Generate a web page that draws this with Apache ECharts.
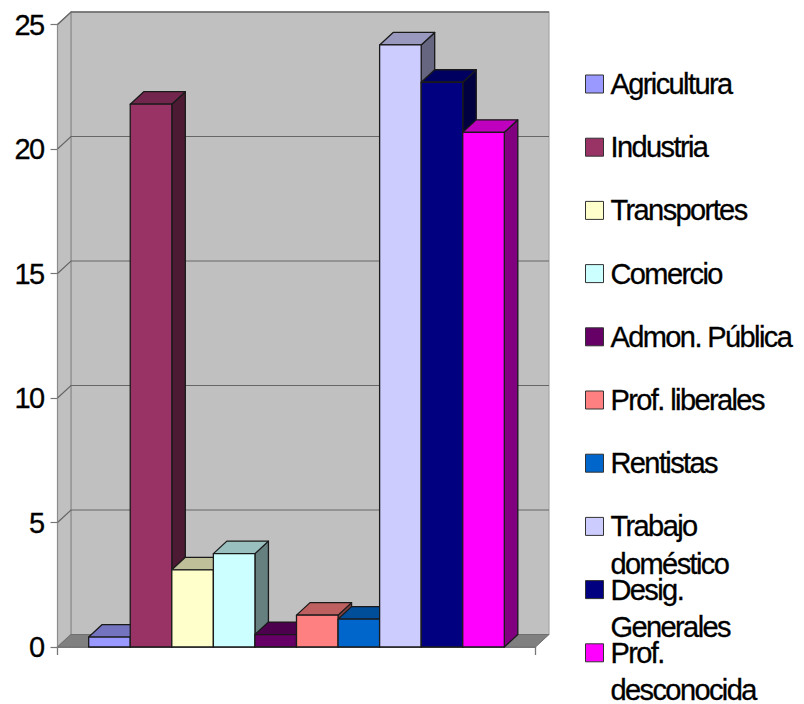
<!DOCTYPE html>
<html><head><meta charset="utf-8">
<style>html,body{margin:0;padding:0;background:#fff}#c{width:804px;height:704px}svg text{letter-spacing:-1.6px;stroke:#000;stroke-width:.3px}</style>
<script src="https://cdn.jsdelivr.net/npm/echarts@6/dist/echarts.min.js"></script>
</head><body><div id="c"></div>
<script>
const categories = ['Agricultura','Industria','Transportes','Comercio','Admon. Pública','Prof. liberales','Rentistas','Trabajo\ndoméstico','Desig.\nGenerales','Prof.\ndesconocida'];
const values = [0.4,21.8,3.1,3.75,0.5,1.28,1.12,24.18,22.68,20.67];
const colors = ['#9999FF','#993366','#FFFFCC','#CCFFFF','#660066','#FF8080','#0066CC','#CCCCFF','#000080','#FF00FF'];
const yTicks = [0,5,10,15,20,25];

const DX = 13.5, DY = -12.5, FONT = 'Liberation Sans', FS = 29;
const chart = echarts.init(document.getElementById('c'), null, {renderer:'svg', width:804, height:704});

function shade(hex, k){
  const n = parseInt(hex.slice(1),16);
  const c = [n>>16&255,n>>8&255,n&255].map(v=>Math.round(v*k));
  return 'rgb('+c.join(',')+')';
}
const wallSeries = {
  type:'custom', silent:true, z:1, data:yTicks.map(v=>[0,v]), encode:{x:0,y:1},
  renderItem(params, api){
    const v = api.value(1), p = api.coord([0,v]), band = api.size([1,0])[0];
    const L = p[0]-band/2, R = p[0]+band/2, y = p[1];
    const children = [];
    if (v === 0) {
      const top = api.coord([0,25])[1];
      children.push({type:'polygon',shape:{points:[[L+DX,y+DY],[R+DX,y+DY],[R+DX,top+DY],[L+DX,top+DY]]},style:{fill:'#C0C0C0',stroke:'#A8A8A8',lineWidth:1.2}});
      children.push({type:'polygon',shape:{points:[[L,y],[L+DX,y+DY],[L+DX,top+DY],[L,top]]},style:{fill:'#C0C0C0',stroke:'#8C8C8C',lineWidth:1.2}});
      children.push({type:'polygon',shape:{points:[[L,y],[R,y],[R+DX,y+DY],[L+DX,y+DY]]},style:{fill:'#808080',stroke:'#707070',lineWidth:1}});
      children.push({type:'line',shape:{x1:L+DX,y1:top+DY,x2:R+DX,y2:top+DY},style:{stroke:'#666',lineWidth:1.2}});
    } else {
      children.push({type:'polyline',shape:{points:[[L,y],[L+DX,y+DY],[R+DX,y+DY]]},style:{fill:'none',stroke:'#666',lineWidth:1.2}});
    }
    return {type:'group',children};
  }
};
const barSeries = categories.map((name,i)=>({
  type:'custom', name, z:2, data:[[0,values[i]]], encode:{x:0,y:1},
  itemStyle:{color:colors[i]},
  renderItem(params, api){
    const p = api.coord([0,api.value(1)]), base = api.coord([0,0])[1];
    const band = api.size([1,0])[0], w = band/11.5;
    const x0 = p[0]+(i-5)*w, x1 = x0+w, t = p[1];
    const stroke = {stroke:'#1a1a1a',lineWidth:1.3,lineJoin:'round'};
    return {type:'group',children:[
      {type:'polygon',shape:{points:[[x1,t],[x1+DX,t+DY],[x1+DX,base+DY],[x1,base]]},style:Object.assign({fill:shade(colors[i],.5)},stroke)},
      {type:'polygon',shape:{points:[[x0,t],[x0+DX,t+DY],[x1+DX,t+DY],[x1,t]]},style:Object.assign({fill:shade(colors[i],.75)},stroke)},
      {type:'polygon',shape:{points:[[x0,t],[x1,t],[x1,base],[x0,base]]},style:Object.assign({fill:colors[i]},stroke)}
    ]};
  }
}));
const LH = 37.5;
const legends = categories.map((name,i)=>{
  const multi = name.includes('\n'), cy = 84 + 63.2*i;
  return {
    data:[name], orient:'vertical', left:585, top: multi ? cy-1.5*LH : cy-LH/2, padding:0,
    icon:'rect', itemWidth:18, itemHeight:18, selectedMode:false,
    itemStyle:{borderColor:'#333',borderWidth:1},
    formatter: n => n.includes('\n') ? '\n'+n : n,
    textStyle:{fontFamily:FONT,fontSize:FS,color:'#000',lineHeight:LH,padding:[0,0,0,2]}
  };
});
chart.setOption({
  animation:false,
  backgroundColor:'#fff',
  grid:{left:57.5,width:478,top:24.5,height:622.5},
  xAxis:{type:'category',data:[''],
    axisLine:{lineStyle:{color:'#555',width:1.5}},
    axisTick:{show:true,alignWithLabel:false,length:8,lineStyle:{color:'#777',width:1.3}},
    axisLabel:{show:false},splitLine:{show:false}},
  yAxis:{type:'value',min:0,max:25,interval:5,
    axisLine:{show:true,lineStyle:{color:'#777',width:1.5}},
    axisTick:{show:true,length:7,lineStyle:{color:'#777',width:1.2}},
    axisLabel:{margin:14,fontFamily:FONT,fontSize:FS,color:'#000',showMinLabel:true,showMaxLabel:true},
    splitLine:{show:false}},
  legend:legends,
  series:[wallSeries].concat(barSeries)
});
</script></body></html>
